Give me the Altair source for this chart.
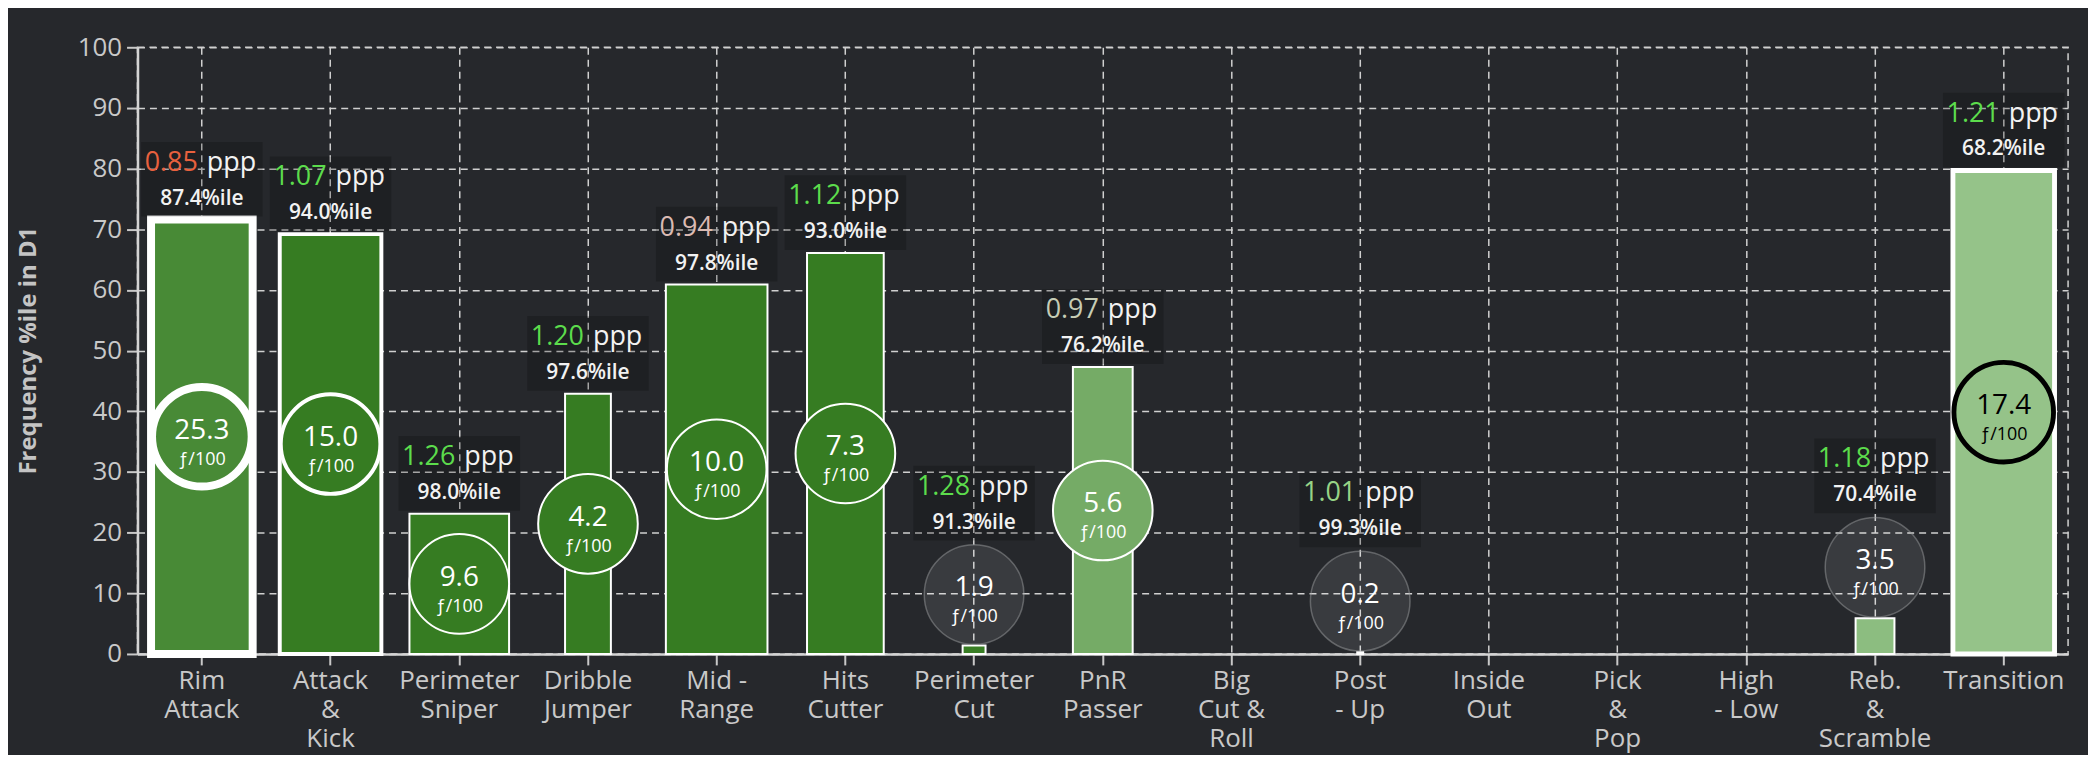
import altair as alt
import pandas as pd

# ---- data ----
CATS = ["Rim|Attack", "Attack|&|Kick", "Perimeter|Sniper", "Dribble|Jumper",
        "Mid -|Range", "Hits|Cutter", "Perimeter|Cut", "PnR|Passer",
        "Big|Cut &|Roll", "Post|- Up", "Inside|Out", "Pick|&|Pop",
        "High|- Low", "Reb.|&|Scramble", "Transition"]
FREQ_PCTILE = [71.6, 69.2, 23.1, 42.9, 60.9, 66.1, 1.4, 47.3, None, 0.3,
               None, None, None, 5.9, 79.7]
F_PER_100 = [25.3, 15.0, 9.6, 4.2, 10.0, 7.3, 1.9, 5.6, None, 0.2,
             None, None, None, 3.5, 17.4]
PPP = [0.85, 1.07, 1.26, 1.20, 0.94, 1.12, 1.28, 0.97, None, 1.01,
       None, None, None, 1.18, 1.21]
PPP_PCTILE = [87.4, 94.0, 98.0, 97.6, 97.8, 93.0, 91.3, 76.2, None, 99.3,
              None, None, None, 70.4, 68.2]

df = pd.DataFrame({"cat": CATS, "freq": FREQ_PCTILE, "f": F_PER_100,
                   "ppp": PPP, "pct": PPP_PCTILE}).dropna().reset_index(drop=True)

R = 8.4  # circle radius expressed in y units
df["inside"] = df["freq"] >= 2 * R
df["cy"] = df.apply(lambda r: r["freq"] / 2 if r["inside"] else r["freq"] + R, axis=1)
df["anchor"] = df.apply(lambda r: r["freq"] if r["inside"] else r["freq"] + 2 * R, axis=1)
df["kind"] = df.apply(lambda r: "outside" if not r["inside"] else ("light" if r["pct"] < 72 else "dark"), axis=1)
df["ppp_txt"] = df["ppp"].map(lambda v: f"{v:.2f}")
df["pct_txt"] = df["pct"].map(lambda v: f"{v:.1f}%ile")
df["f_txt"] = df["f"].map(lambda v: f"{v:.1f}")
df["unit"] = "ƒ/100"
df["ppp_word"] = "ppp"

FONT = "Open Sans"
BG = "#26282c"
AXC = "#c9c9c9"

xaxis = alt.Axis(title=None, labelExpr="split(datum.value, '|')", labelAngle=0,
                 labelFont=FONT, labelFontSize=26, labelColor=AXC, labelLineHeight=29,
                 labelPadding=3, tickSize=11, tickColor=AXC, tickWidth=2,
                 domainColor="#d4d4d4", domainWidth=2.5,
                 grid=True, gridColor="#d0d0d0", gridDash=[7, 5], gridWidth=1.5)
X = alt.X("cat:N", sort=CATS,
          scale=alt.Scale(domain=CATS, paddingInner=0, paddingOuter=0),
          axis=xaxis)

yscale = alt.Scale(domain=[0, 100], nice=False)
yaxis = alt.Axis(title="Frequency %ile in D1", values=list(range(0, 101, 10)),
                 labelFont=FONT, labelFontSize=26, labelColor=AXC, labelPadding=5,
                 tickSize=11, tickColor=AXC, tickWidth=2,
                 domainColor="#d4d4d4", domainWidth=2.5,
                 grid=True, gridColor="#d0d0d0", gridDash=[7, 5], gridWidth=1.5,
                 titleFont=FONT, titleFontSize=24, titleFontWeight="bold", titleColor="#c4c4c4",
                 titleX=-102, titleY=304, titleBaseline="alphabetic", titleAngle=-90,
                 titleAlign="center")


def Y(field):
    return alt.Y(field, type="quantitative", scale=yscale, axis=yaxis)


fill_scale = alt.Scale(domain=[68, 92], range=["#96c48a", "#367c22"], clamp=True, interpolate="rgb")
sw_scale = alt.Scale(domain=[10, 25.3], range=[2, 8], clamp=True)
ppp_scale = alt.Scale(domain=[0.85, 0.955, 1.06], range=["#e9613e", "#d8c9c6", "#5cdc4c"],
                      clamp=True, interpolate="rgb")

base = alt.Chart(df).encode(x=X)

bars = base.mark_bar(stroke="white").encode(
    y=Y("freq"),
    size=alt.Size("f:Q", scale=alt.Scale(domain=[0, 9.8], range=[4, 102], clamp=True), legend=None),
    fill=alt.Fill("pct:Q", scale=fill_scale, legend=None),
    strokeWidth=alt.StrokeWidth("f:Q", scale=sw_scale, legend=None),
)

boxes = base.mark_bar(width=122, fill="black", opacity=0.2, yOffset=-78, y2Offset=-3).encode(
    y=Y("anchor"), y2="anchor:Q"
)

ppp_num = base.mark_text(font=FONT, fontSize=27, align="right", baseline="middle", dx=-4, dy=-57).encode(
    y=Y("anchor"), text="ppp_txt:N",
    color=alt.Color("ppp:Q", scale=ppp_scale, legend=None),
)
ppp_word = base.mark_text(font=FONT, fontSize=27, align="left", baseline="middle", dx=5, dy=-57,
                          color="#f2f2f2").encode(y=Y("anchor"), text="ppp_word:N")
pct_txt = base.mark_text(font=FONT, fontSize=21, fontWeight=600, align="center", baseline="middle", dy=-21,
                         color="#f2f2f2").encode(y=Y("anchor"), text="pct_txt:N")

circ_in = base.transform_filter("datum.inside").mark_circle(size=10000, opacity=1).encode(
    y=Y("cy"),
    fill=alt.Fill("pct:Q", scale=fill_scale, legend=None),
    stroke=alt.Stroke("kind:N", scale=alt.Scale(domain=["dark", "light"], range=["white", "black"]), legend=None),
    strokeWidth=alt.StrokeWidth("f:Q", scale=sw_scale, legend=None),
)
circ_out = base.transform_filter("!datum.inside").mark_circle(
    size=10000, opacity=1, fill="white", fillOpacity=0.09, stroke="#9a9b9e",
    strokeOpacity=0.5, strokeWidth=1.5).encode(y=Y("cy"))

txt_color = alt.Color("kind:N", scale=alt.Scale(domain=["dark", "light", "outside"],
                                                range=["white", "black", "white"]), legend=None)
circ_num = base.mark_text(font=FONT, fontSize=28, align="center", baseline="middle", dy=-6).encode(
    y=Y("cy"), text="f_txt:N", color=txt_color)
circ_unit = base.mark_text(font=FONT, fontSize=18, align="center", baseline="middle", dy=23).encode(
    y=Y("cy"), text="unit:N", color=txt_color)

chart = alt.layer(bars, boxes, ppp_num, ppp_word, pct_txt, circ_out, circ_in, circ_num, circ_unit).properties(
    width=1938, height=609,
    autosize=alt.AutoSizeParams(type="none"),
    padding={"left": 130, "top": 38, "right": 20, "bottom": 100},
    background=BG,
).resolve_scale(color="independent").configure_view(
    stroke="#d0d0d0", strokeDash=[7, 5], strokeWidth=1.5
)

chart.save("out.html", embed_options={"renderer": "svg", "actions": False})
